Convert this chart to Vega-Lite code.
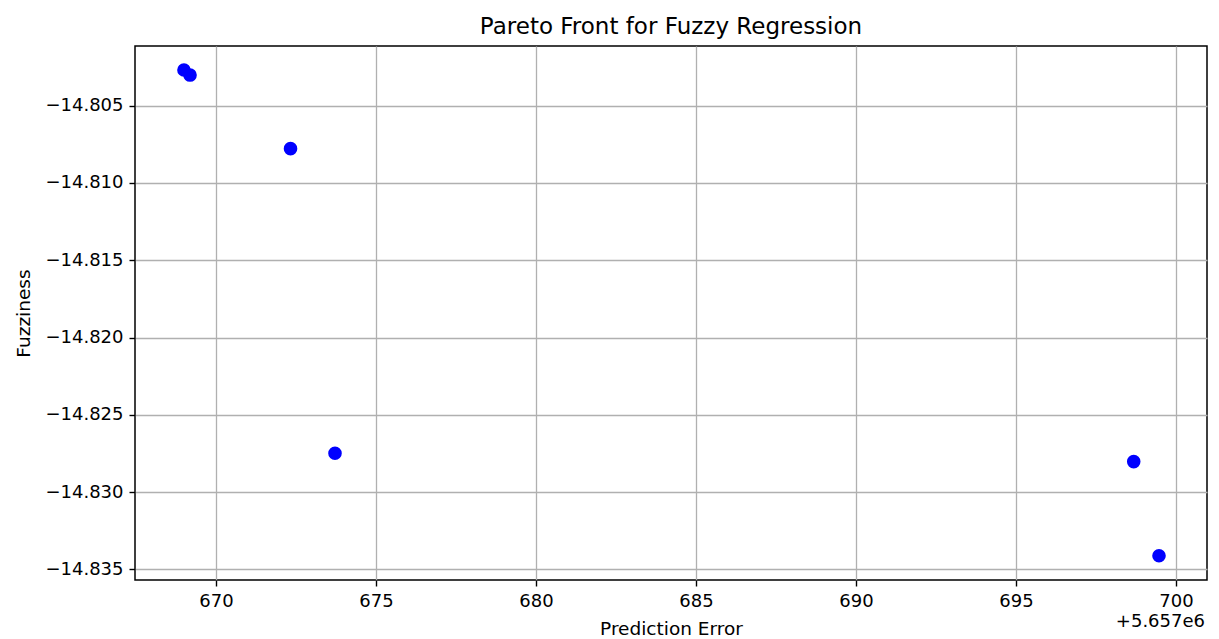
{
  "$schema": "https://vega.github.io/schema/vega-lite/v6.json",
  "width": 1072,
  "height": 534,
  "autosize": {"type": "none"},
  "padding": {"left": 135, "top": 46, "right": 12, "bottom": 59},
  "background": "white",
  "config": {
    "font": "DejaVu Sans",
    "view": {"stroke": "black", "strokeWidth": 1.5},
    "axis": {
      "domain": false,
      "grid": true,
      "gridColor": "#b0b0b0",
      "gridWidth": 1.3,
      "tickColor": "black",
      "tickSize": 6,
      "tickWidth": 1.4,
      "labelFont": "DejaVu Sans",
      "labelFontSize": 18,
      "labelColor": "black",
      "labelPadding": 6,
      "titleFont": "DejaVu Sans",
      "titleFontSize": 18.5,
      "titleFontWeight": "normal",
      "titleColor": "black"
    }
  },
  "title": {
    "text": "Pareto Front for Fuzzy Regression",
    "font": "DejaVu Sans",
    "fontSize": 23,
    "fontWeight": "normal",
    "color": "black",
    "anchor": "middle",
    "offset": 7
  },
  "data": {
    "values": [
      {"error": 5657669.00, "fuzziness": -14.80269},
      {"error": 5657669.19, "fuzziness": -14.80302},
      {"error": 5657672.33, "fuzziness": -14.80778},
      {"error": 5657673.72, "fuzziness": -14.82748},
      {"error": 5657698.68, "fuzziness": -14.82802},
      {"error": 5657699.47, "fuzziness": -14.83411}
    ]
  },
  "layer": [
    {
      "mark": {"type": "point", "filled": true, "color": "#0000ff", "opacity": 1, "size": 185},
      "encoding": {
        "x": {
          "field": "error",
          "type": "quantitative",
          "title": "Prediction Error",
          "scale": {"domain": [5657667.47, 5657700.97], "nice": false, "zero": false},
          "axis": {
            "values": [5657670, 5657675, 5657680, 5657685, 5657690, 5657695, 5657700],
            "labelExpr": "format(datum.value - 5657000, 'd')",
            "titlePadding": 9
          }
        },
        "y": {
          "field": "fuzziness",
          "type": "quantitative",
          "title": "Fuzziness",
          "scale": {"domain": [-14.83568, -14.80114], "nice": false, "zero": false},
          "axis": {
            "values": [-14.835, -14.83, -14.825, -14.82, -14.815, -14.81, -14.805],
            "labelExpr": "replace(format(datum.value, '.3f'), '-', '\u2212')",
            "titlePadding": 11
          }
        }
      }
    },
    {
      "data": {"values": [{}]},
      "mark": {"type": "text", "text": "+5.657e6", "align": "right", "baseline": "middle", "dy": 42, "dx": -2, "fontSize": 18, "font": "DejaVu Sans", "color": "black"},
      "encoding": {
        "x": {"datum": 5657700.97, "type": "quantitative"},
        "y": {"datum": -14.83568, "type": "quantitative"}
      }
    }
  ]
}
